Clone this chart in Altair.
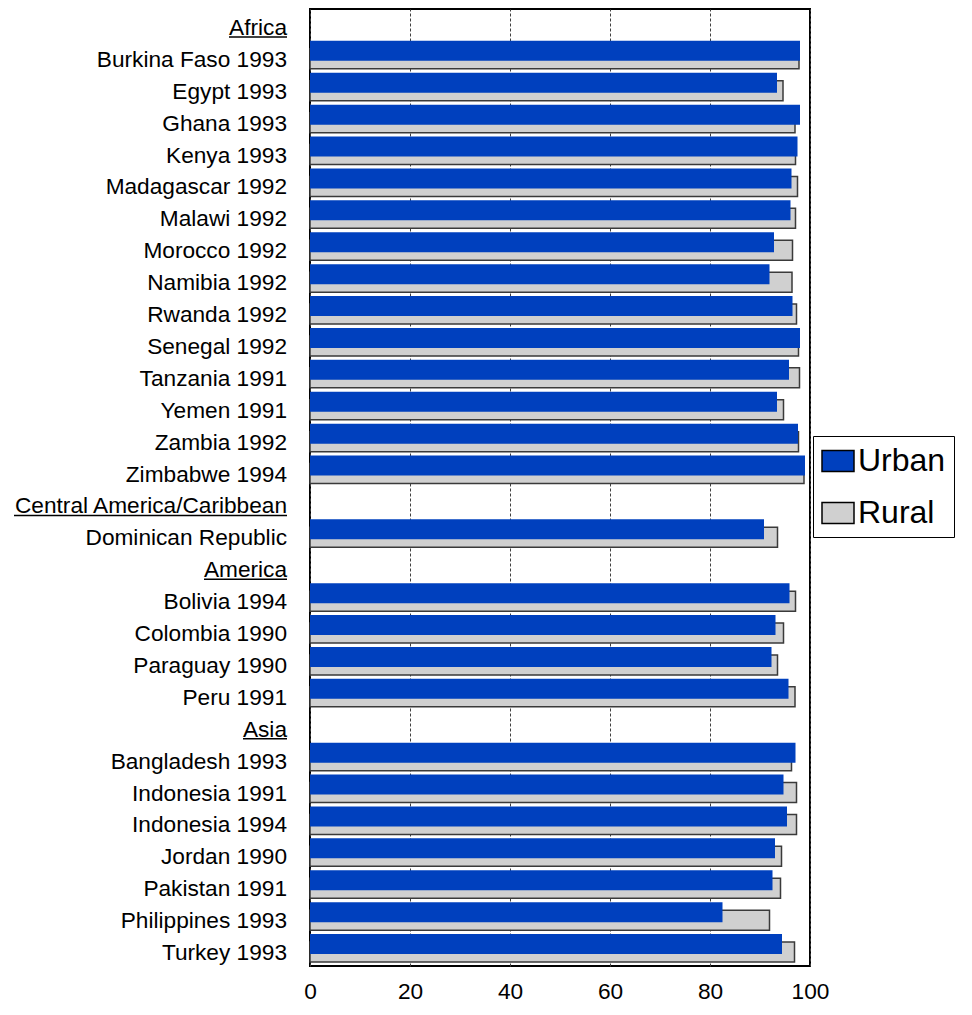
import altair as alt
import pandas as pd

# ---------------- data ----------------
labels = [
    "Africa",
    "Burkina Faso 1993", "Egypt 1993", "Ghana 1993", "Kenya 1993",
    "Madagascar 1992", "Malawi 1992", "Morocco 1992", "Namibia 1992",
    "Rwanda 1992", "Senegal 1992", "Tanzania 1991", "Yemen 1991",
    "Zambia 1992", "Zimbabwe 1994",
    "Central America/Caribbean",
    "Dominican Republic",
    "America",
    "Bolivia 1994", "Colombia 1990", "Paraguay 1990", "Peru 1991",
    "Asia",
    "Bangladesh 1993", "Indonesia 1991", "Indonesia 1994", "Jordan 1990",
    "Pakistan 1991", "Philippines 1993", "Turkey 1993",
]
headers = ["Africa", "Central America/Caribbean", "America", "Asia"]

urban = [
    None,
    98.0, 93.4, 98.0, 97.5, 96.3, 96.1, 92.8, 91.9, 96.5, 98.0, 95.8, 93.4, 97.6, 99.0,
    None,
    90.8,
    None,
    95.9, 93.1, 92.3, 95.7,
    None,
    97.1, 94.7, 95.4, 93.0, 92.5, 82.5, 94.4,
]
rural = [
    None,
    97.8, 94.6, 97.0, 97.1, 97.5, 97.1, 96.5, 96.4, 97.3, 97.7, 97.9, 94.7, 97.7, 98.8,
    None,
    93.5,
    None,
    97.1, 94.7, 93.5, 97.0,
    None,
    96.3, 97.3, 97.3, 94.3, 94.1, 91.9, 96.9,
]
series = ["Urban", "Rural"]
x_ticks = [0, 20, 40, 60, 80, 100]

# ---------------- styles ----------------
BLUE = "#0040BE"
GRAY = "#D0D0D0"
FONT = "Liberation Sans"
LABEL_SIZE = 22.67
LABEL_DX = -23
underline_px = {"Africa": 58, "Central America/Caribbean": 273, "America": 83, "Asia": 44}

rows = pd.DataFrame({"label": labels, "Urban": urban, "Rural": rural})
long = rows.melt(id_vars="label", value_vars=series, var_name="series", value_name="value").dropna()
head = pd.DataFrame({"label": headers, "ulen": [underline_px[h] for h in headers]})

Y = alt.Y("label:N", sort=labels,
          scale=alt.Scale(domain=labels, paddingInner=0, paddingOuter=0),
          axis=None)
X = alt.X("value:Q", scale=alt.Scale(domain=[0, 100], nice=False),
          axis=alt.Axis(values=x_ticks, grid=True, gridDash=[3, 2], gridColor="#404040",
                        gridWidth=1, ticks=False, domain=False, title=None,
                        labelFont=FONT, labelFontSize=LABEL_SIZE, labelColor="black",
                        labelPadding=14, labelFlush=False))
C = alt.Color("series:N", scale=alt.Scale(domain=series, range=[BLUE, GRAY]),
              legend=alt.Legend(title=None, orient="none", legendX=503, legendY=427,
                                strokeColor="black", fillColor="white", padding=8,
                                labelFont=FONT, labelFontSize=32, labelColor="black",
                                labelOffset=3,
                                symbolType="M-1,-0.65H1V0.65H-1Z", symbolSize=1024,
                                symbolStrokeColor="black", symbolStrokeWidth=1.5,
                                symbolOpacity=1, rowPadding=19))

bars = alt.Chart(long).encode(y=Y, x=X, color=C)
rural_bars = bars.transform_filter(alt.datum.series == "Rural").mark_bar(
    size=20, yOffset=2, stroke="#3a3a3a", strokeWidth=1.5, opacity=1)
urban_bars = bars.transform_filter(alt.datum.series == "Urban").mark_bar(
    size=20, yOffset=-6, opacity=1)

text = alt.Chart(rows).mark_text(
    align="right", baseline="alphabetic", dy=10, font=FONT, fontSize=LABEL_SIZE, color="black"
).encode(y=Y, x=alt.value(LABEL_DX), text="label:N")

underline = alt.Chart(head).transform_calculate(
    ux=f"{LABEL_DX} - datum.ulen"
).mark_rule(yOffset=12, strokeWidth=1.5, color="black").encode(
    y=Y, x=alt.X("ux:Q", scale=None), x2=alt.value(LABEL_DX))

chart = alt.layer(rural_bars, urban_bars, text, underline).properties(
    width=500, height=957,
    autosize=alt.AutoSizeParams(type="none"),
    padding={"left": 302, "top": 1, "right": 146, "bottom": 36},
).configure(background="white").configure_view(stroke="black", strokeWidth=2)

chart.save("out.html", embed_options={"renderer": "svg", "actions": False})
